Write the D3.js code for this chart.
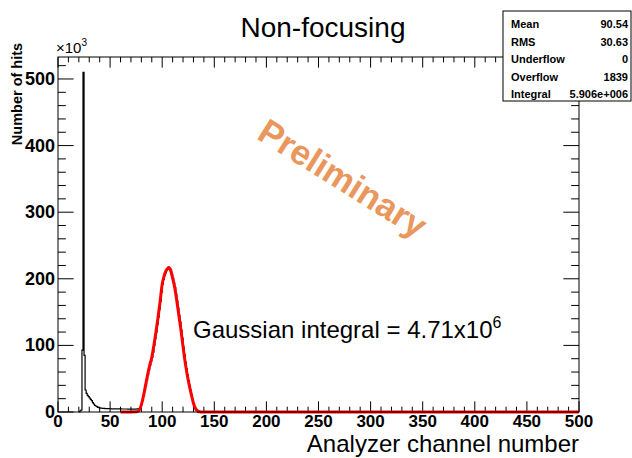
<!DOCTYPE html>
<html lang="en">
<head>
<meta charset="UTF-8">
<title>Non-focusing</title>
<script src="https://cdn.jsdelivr.net/npm/d3@7"></script>
<style>
    body { margin: 0; background: white; }
    svg { display: block; font-family: "Liberation Sans", Arial, Helvetica, sans-serif; }
</style>
</head>
<body>
<div id="chart"></div>
<script>
// histogram: one bin per channel, counts in thousands, starting at channel 20
const histStart = 20;
const histCounts = [
    0, 1.5, 3, 93, 510, 85, 33, 28, 25, 23,
    21, 19, 17, 14, 12, 10, 9, 8, 7, 6.5,
    6, 5.8, 5.6, 5.4, 5.3, 5.2, 5.1, 5.0, 5.0, 4.9,
    4.9, 4.8, 4.8, 4.8, 4.7, 4.7, 4.7, 4.6, 4.6, 4.6,
    4.6, 4.5, 4.5, 4.5, 4.5, 4.5, 4.5, 4.4, 4.4, 4.4,
    4.4, 4.4, 4.4, 4.4, 4.4, 4.5, 4.6, 4.8, 5.2, 6.0,
    11, 17, 24, 32, 40, 48, 56, 63, 70, 76,
    82, 90, 100, 110, 120, 131, 142, 154, 166, 180,
    192, 199, 205, 209, 213, 215, 217, 216, 213, 207,
    201, 194, 187, 177, 167, 156, 145, 135, 123, 111,
    98, 86, 75, 65, 56, 47, 40, 33, 26, 19,
    13, 8, 5, 3, 1.5, 0.8, 0.3, 0, 0, 0, 0
];

// gaussian fit curve (channel, thousands)
const fitChannels = [60, 76, 77, 78, 79, 80, 82, 84, 86, 88, 90, 92, 94, 96, 98, 100,
    102, 104, 105, 106, 107, 108, 110, 112, 114, 116, 118, 120, 122, 124, 126,
    128, 130, 132, 134, 136, 138, 500];
const fitValues = [0, 0.5, 1.5, 3, 6, 11, 24, 40, 56, 70, 82, 100, 120, 142, 166, 192,
    205, 213, 215, 217, 216, 213, 201, 187, 167, 145, 123, 98, 75, 56, 40,
    26, 13, 5, 1.5, 0.3, 0, 0];

const xTicks = [0, 50, 100, 150, 200, 250, 300, 350, 400, 450, 500];
const yTicks = [0, 100, 200, 300, 400, 500];

const statNames = ["Mean", "RMS", "Underflow", "Overflow", "Integral"];
const statValues = ["90.54", "30.63", "0", "1839", "5.906e+006"];

const W = 632, H = 458;
const margin = { top: 57, right: 53, bottom: 46, left: 58 };
const width = W - margin.left - margin.right;
const height = H - margin.top - margin.bottom;

const svg = d3.select("#chart").append("svg")
    .attr("width", W)
    .attr("height", H);

const x = d3.scaleLinear().domain([0, 500]).range([0, width]);
const y = d3.scaleLinear().domain([0, 533]).range([height, 0]);

const g = svg.append("g")
    .attr("transform", "translate(" + margin.left + "," + margin.top + ")");

// ROOT-style ticks on all four sides
const majX = 0.03 * height, majY = 0.03 * width;
const xMinor = d3.range(0, 501, 10), yMinor = d3.range(0, 534, 20);

const ticks = g.append("g").attr("stroke", "#000").attr("stroke-width", 1);
xMinor.forEach(v => {
    const len = xTicks.includes(v) ? majX : majX / 2;
    ticks.append("line").attr("x1", x(v)).attr("x2", x(v)).attr("y1", height).attr("y2", height - len);
    ticks.append("line").attr("x1", x(v)).attr("x2", x(v)).attr("y1", 0).attr("y2", len);
});
yMinor.forEach(v => {
    const len = yTicks.includes(v) ? majY : majY / 2;
    ticks.append("line").attr("x1", 0).attr("x2", len).attr("y1", y(v)).attr("y2", y(v));
    ticks.append("line").attr("x1", width).attr("x2", width - len).attr("y1", y(v)).attr("y2", y(v));
});

// histogram as a step line
const steps = [];
histCounts.forEach((c, i) => {
    steps.push([histStart + i, c]);
    steps.push([histStart + i + 1, c]);
});
steps.unshift([histStart, 0]);
steps.push([histStart + histCounts.length, 0], [500, 0]);

g.append("path")
    .datum(steps)
    .attr("fill", "none")
    .attr("stroke", "#000")
    .attr("stroke-width", 1.2)
    .attr("d", d3.line().x(d => x(d[0])).y(d => y(d[1])));

// fit
g.append("path")
    .datum(fitChannels.map((c, i) => [c, fitValues[i]]))
    .attr("fill", "none")
    .attr("stroke", "#ff0000")
    .attr("stroke-width", 3)
    .attr("stroke-linejoin", "round")
    .attr("d", d3.line().curve(d3.curveMonotoneX).x(d => x(d[0])).y(d => y(d[1])));

// frame
g.append("rect")
    .attr("width", width).attr("height", height)
    .attr("fill", "none").attr("stroke", "#000").attr("stroke-width", 1);

// tick labels
g.selectAll(".xl").data(xTicks).join("text")
    .attr("x", d => x(d)).attr("y", height + 15)
    .attr("text-anchor", "middle")
    .attr("font-weight", "bold").attr("font-size", 17)
    .text(d => d);

g.selectAll(".yl").data(yTicks).join("text")
    .attr("x", -3).attr("y", d => y(d) + 6)
    .attr("text-anchor", "end")
    .attr("font-weight", "bold").attr("font-size", 18)
    .text(d => d);

// exponent
const ex = svg.append("text").attr("x", 56).attr("y", 53).attr("font-size", 15);
ex.append("tspan").text("\u00d710");
ex.append("tspan").attr("dy", -7).attr("font-size", 10).text("3");

// axis titles
svg.append("text")
    .attr("x", margin.left + width).attr("y", 452)
    .attr("text-anchor", "end").attr("font-size", 24)
    .text("Analyzer channel number");

svg.append("text")
    .attr("transform", "translate(22,94) rotate(-90)")
    .attr("text-anchor", "middle")
    .attr("font-weight", "bold").attr("font-size", 14.5)
    .text("Number of hits");

// title
svg.append("text")
    .attr("x", 323).attr("y", 37)
    .attr("text-anchor", "middle").attr("font-size", 28)
    .text("Non-focusing");

// annotation
const ann = svg.append("text").attr("x", 193).attr("y", 338).attr("font-size", 24);
ann.append("tspan").text("Gaussian integral = 4.71x10");
ann.append("tspan").attr("dy", -10).attr("font-size", 16).text("6");

svg.append("text")
    .attr("transform", "translate(343,178) rotate(32)")
    .attr("text-anchor", "middle").attr("dominant-baseline", "central")
    .attr("font-weight", "bold").attr("font-size", 35)
    .attr("fill", "#e9975c")
    .text("Preliminary");

// stats box
const box = svg.append("g").attr("transform", "translate(503,11)");
box.append("rect")
    .attr("width", 128).attr("height", 90)
    .attr("fill", "white").attr("stroke", "#000").attr("stroke-width", 1);
statNames.forEach((n, i) => {
    const ry = 17 + i * 17.5;
    box.append("text").attr("x", 8).attr("y", ry)
        .attr("font-weight", "bold").attr("font-size", 11).text(n);
    box.append("text").attr("x", 125).attr("y", ry)
        .attr("text-anchor", "end")
        .attr("font-weight", "bold").attr("font-size", 11).text(statValues[i]);
});
</script>
</body>
</html>
